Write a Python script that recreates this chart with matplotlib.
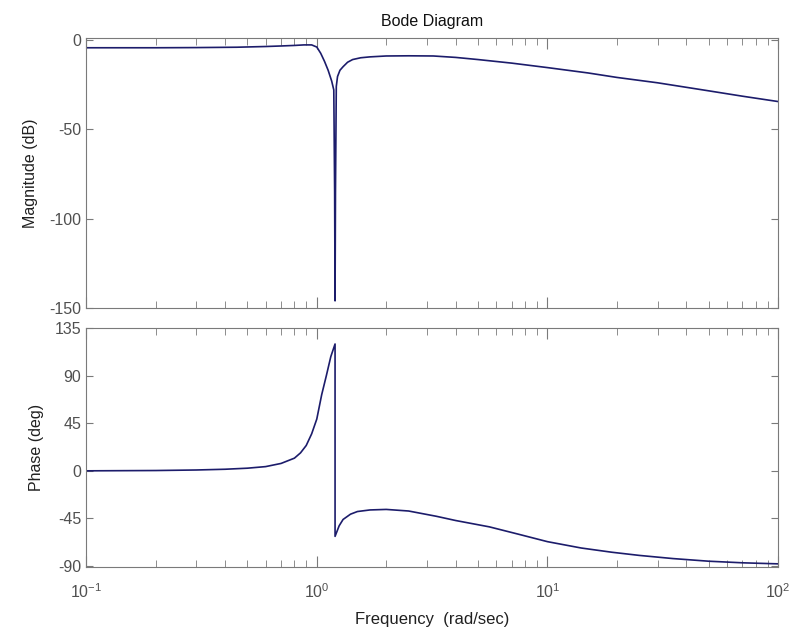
import numpy as np
import matplotlib.pyplot as plt
from matplotlib.ticker import LogLocator, LogFormatterMathtext, NullFormatter

plt.rcParams['font.family'] = ['Liberation Sans', 'DejaVu Sans']
plt.rcParams['mathtext.default'] = 'regular'
plt.rcParams['axes.unicode_minus'] = False

# Magnitude curve (rad/sec, dB)
mag_freq = [0.1, 0.2, 0.3, 0.45, 0.6, 0.7, 0.8, 0.88, 0.95, 1.0, 1.04, 1.08,
            1.12, 1.16, 1.185, 1.195, 1.2, 1.205, 1.215, 1.23, 1.26, 1.30,
            1.36, 1.43, 1.55, 1.7, 2.0, 2.5, 3.2, 4.0, 5.0, 7.0, 10, 15,
            20, 30, 50, 70, 100]
mag_db = [-4.4, -4.4, -4.3, -4.1, -3.7, -3.4, -3.1, -2.8, -2.8, -4.0, -7.5, -12,
          -17, -23, -28, -85, -146, -85, -26, -20.5, -17, -15,
          -12.5, -11, -10, -9.5, -9.0, -8.9, -9.0, -9.8, -11, -13, -15.5, -18.5,
          -21, -24, -28.5, -31.5, -34.5]

# Phase curve (rad/sec, deg)
ph_freq = [0.1, 0.2, 0.3, 0.4, 0.5, 0.6, 0.7, 0.8, 0.85, 0.9, 0.95, 1.0,
           1.05, 1.1, 1.15, 1.2, 1.2001, 1.25, 1.3, 1.4, 1.5, 1.7, 2.0,
           2.5, 3.3, 4.0, 5.6, 7.5, 10, 14, 19, 25, 35, 50, 70, 100]
phase_deg = [0, 0.3, 0.8, 1.5, 2.5, 4, 7, 12, 17, 24, 35, 49,
             72, 90, 108, 120, -62, -52, -46, -41, -38.5, -37, -36.5,
             -38, -43, -47, -53, -60, -67, -73, -77, -80, -83, -85.5, -87, -88]

mag_ticks = [-150, -100, -50, 0]
phase_ticks = [-90, -45, 0, 45, 90, 135]

line_color = '#1c1c6b'
axis_color = '#7a7a7a'
label_color = '#505050'
fs = 11.5

fig = plt.figure(figsize=(7.9, 6.32), dpi=100)
ax1 = fig.add_axes([0.109, 0.5127, 0.876, 0.427])
ax2 = fig.add_axes([0.109, 0.1028, 0.876, 0.378])

ax1.plot(mag_freq, mag_db, color=line_color, lw=1.2)
ax2.plot(ph_freq, phase_deg, color=line_color, lw=1.2)

for ax in (ax1, ax2):
    ax.set_xscale('log')
    ax.set_xlim(0.1, 100)
    ax.xaxis.set_major_locator(LogLocator(base=10))
    ax.xaxis.set_minor_locator(LogLocator(base=10, subs=np.arange(2, 10)))
    ax.xaxis.set_minor_formatter(NullFormatter())
    ax.tick_params(which='both', direction='in', top=True, right=True,
                   colors=axis_color, labelcolor=label_color, labelsize=fs)
    ax.xaxis.set_tick_params(which='major', length=8, pad=11)
    ax.xaxis.set_tick_params(which='minor', length=5)
    ax.yaxis.set_tick_params(which='major', length=5)
    for s in ax.spines.values():
        s.set_color(axis_color)

ax1.set_ylim(-150, 1)
ax1.set_yticks(mag_ticks)
ax1.xaxis.set_major_formatter(NullFormatter())
ax1.set_ylabel('Magnitude (dB)', fontsize=fs, color='#202020', labelpad=8)
ax1.set_title('Bode Diagram', fontsize=fs, color='#101010', pad=9)

ax2.set_ylim(-91, 135)
ax2.set_yticks(phase_ticks)
ax2.xaxis.set_major_formatter(LogFormatterMathtext())
ax2.set_ylabel('Phase (deg)', fontsize=fs, color='#202020', labelpad=8)
ax2.set_xlabel('Frequency  (rad/sec)', fontsize=fs + 0.5, color='#202020', labelpad=8)
fig.align_ylabels([ax1, ax2])

fig.savefig('out.png', dpi=100)
